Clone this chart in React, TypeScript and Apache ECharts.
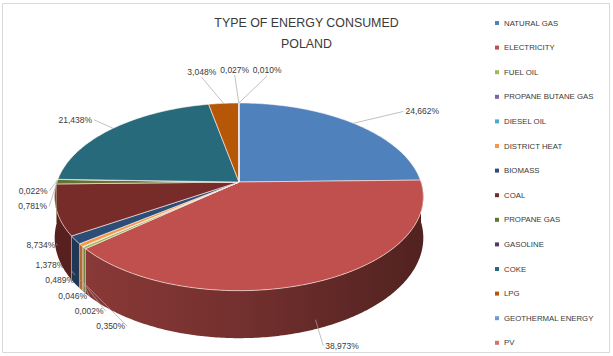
import React, { useEffect, useRef } from "react";
import * as echarts from "echarts";

const CATEGORIES = [
  "NATURAL GAS",
  "ELECTRICITY",
  "FUEL OIL",
  "PROPANE BUTANE GAS",
  "DIESEL OIL",
  "DISTRICT HEAT",
  "BIOMASS",
  "COAL",
  "PROPANE GAS",
  "GASOLINE",
  "COKE",
  "LPG",
  "GEOTHERMAL ENERGY",
  "PV",
];
const SHARES = [24.662, 38.973, 0.35, 0.002, 0.046, 0.489, 1.378, 8.734, 0.781, 0.022, 21.438, 3.048, 0.027, 0.01];
const COLORS = [
  "#4F81BD", "#C0504D", "#9BBB59", "#8064A2", "#4BACC6", "#F79646", "#2C4D75",
  "#772C2A", "#5F7530", "#4D3B62", "#276A7C", "#B65708", "#729ACA", "#CD7371",
];
const TITLE_LINES = ["TYPE OF ENERGY CONSUMED", "POLAND"];

const FONT = '"Liberation Sans", Arial, sans-serif';
const LABEL_SIZE = 8.5;
const TAU = Math.PI * 2;

// pie geometry (perspective ellipse)
const G = { cx: 239, cy: 182, rx: 182, ry: 91.5, p: 0.158, d: 40 };
// label ellipse
const L = { cx: 239, cy: 200, rxL: 190, rxR: 235, ryT: 124, ryB: 156 };

function proj(a: number, h: number): number[] {
  const u = Math.sin(a);
  const v = -Math.cos(a);
  const s = 1 / (1 - G.p * v);
  return [G.cx + G.rx * u * s, G.cy + (G.ry * v + h) * s];
}

function shade(hex: string, f: number) {
  const n = parseInt(hex.slice(1), 16);
  const r = (n >> 16) & 255, g = (n >> 8) & 255, b = n & 255;
  return `rgb(${Math.round(r * f)},${Math.round(g * f)},${Math.round(b * f)})`;
}

function fmt(v: number) {
  return v.toFixed(3).replace(".", ",") + "%";
}

function computeLayout() {
  const total = SHARES.reduce((a, b) => a + b, 0);
  const starts: number[] = [];
  const ends: number[] = [];
  let acc = 0;
  SHARES.forEach((v) => {
    starts.push((acc / total) * TAU);
    acc += v;
    ends.push((acc / total) * TAU);
  });
  const mids = starts.map((s, i) => (s + ends[i]) / 2);

  let widths: number[] = SHARES.map((v) => fmt(v).length * 4.6);
  try {
    const ctx = document.createElement("canvas").getContext("2d");
    if (ctx) {
      ctx.font = `${LABEL_SIZE}px ${FONT}`;
      widths = SHARES.map((v) => ctx.measureText(fmt(v)).width);
    }
  } catch (e) {}

  const labelPoint = (a: number) => {
    const s = Math.sin(a), c = Math.cos(a);
    return [L.cx + (s > 0 ? L.rxR : L.rxL) * s, L.cy - (c > 0 ? L.ryT : L.ryB) * c];
  };
  const alignOf = (a: number) => {
    const s = Math.sin(a);
    return Math.abs(s) < 0.3 ? "center" : s > 0 ? "left" : "right";
  };
  const box = (a: number, w: number) => {
    const [x, y] = labelPoint(a);
    const al = alignOf(a);
    if (al === "left") return [x + 2, y - 7.5, w, 15];
    if (al === "right") return [x - 2 - w, y - 7.5, w, 15];
    return [x - w / 2, y - 13, w, 12];
  };
  const overlap = (A: number[], B: number[]) =>
    A[0] < B[0] + B[2] + 3 && B[0] < A[0] + A[2] + 3 && A[1] < B[1] + B[3] && B[1] < A[1] + A[3];

  const la = mids.slice();
  const n = la.length;
  for (let it = 0; it < 3000; it++) {
    let moved = false;
    for (let k = 0; k < n - 1; k++) {
      if (overlap(box(la[k], widths[k]), box(la[k + 1], widths[k + 1]))) {
        la[k] -= 0.003;
        la[k + 1] += 0.003;
        moved = true;
      }
    }
    if (!moved) break;
  }

  return { starts, ends, mids, la, labelPoint, alignOf };
}

export default function App() {
  const ref = useRef<HTMLDivElement>(null);

  useEffect(() => {
    if (!ref.current) return;
    const chart = echarts.init(ref.current, undefined, { renderer: "svg" });
    const lay = computeLayout();

    const renderItem = (params: any) => {
      const i = params.dataIndex;
      const a0 = lay.starts[i];
      const a1 = lay.ends[i];
      const color = COLORS[i];
      const children: any[] = [];

      // wall (front half only)
      const w0 = Math.max(a0, Math.PI / 2);
      const w1 = Math.min(a1, (3 * Math.PI) / 2);
      if (w1 > w0) {
        const segs = Math.max(1, Math.ceil((w1 - w0) / 0.012));
        const topPts: number[][] = [];
        const botPts: number[][] = [];
        for (let k = 0; k <= segs; k++) {
          const a = w0 + ((w1 - w0) * k) / segs;
          topPts.push(proj(a, 0));
          botPts.push(proj(a, G.d));
        }
        const grad = new echarts.graphic.LinearGradient(
          G.cx - G.rx * 1.02, 0, G.cx + G.rx * 1.02, 0,
          [
            { offset: 0, color: shade(color, 0.74) },
            { offset: 0.5, color: shade(color, 0.6) },
            { offset: 1, color: shade(color, 0.42) },
          ],
          true
        );
        children.push({
          type: "polygon",
          shape: { points: topPts.concat(botPts.reverse()) },
          style: { fill: grad },
        });
        if (a0 >= Math.PI / 2 && a0 <= (3 * Math.PI) / 2) {
          const t = proj(a0, 0), b = proj(a0, G.d);
          children.push({
            type: "line",
            shape: { x1: t[0], y1: t[1], x2: b[0], y2: b[1] },
            style: { stroke: "rgba(255,235,230,0.6)", lineWidth: 0.6 },
          });
        }
      }

      // top face
      const pts: number[][] = [[G.cx, G.cy]];
      const steps = Math.max(1, Math.ceil((a1 - a0) / 0.015));
      for (let k = 0; k <= steps; k++) pts.push(proj(a0 + ((a1 - a0) * k) / steps, 0));
      children.push({
        type: "polygon",
        shape: { points: pts },
        style: { fill: color, stroke: "rgba(255,242,238,0.85)", lineWidth: 0.7 },
      });

      // label + leader
      const m = lay.mids[i];
      const front = -Math.cos(m) > 0.05;
      const anc = proj(m, front ? G.d * 0.8 : 0);
      const la = lay.la[i];
      const [lx, ly] = lay.labelPoint(la);
      const al = lay.alignOf(la);
      const end = al === "center" ? [lx, ly - 1] : [lx, ly];
      children.push({
        type: "polyline",
        shape: { points: [anc, end] },
        style: { stroke: "#a6a6a6", lineWidth: 0.7, fill: null },
      });
      children.push({
        type: "text",
        style: {
          text: fmt(SHARES[i]),
          x: al === "left" ? lx + 2 : al === "right" ? lx - 2 : lx,
          y: al === "center" ? ly - 2 : ly,
          align: al,
          verticalAlign: al === "center" ? "bottom" : "middle",
          fill: "#3a3a3a",
          fontSize: LABEL_SIZE,
          fontFamily: FONT,
        },
      });

      return { type: "group", children };
    };

    chart.setOption({
      animation: false,
      color: COLORS,
      textStyle: { fontFamily: FONT },
      title: {
        text: TITLE_LINES.join("\n"),
        left: "center",
        top: 12,
        padding: 0,
        textStyle: { fontSize: 12.4, fontWeight: "normal", fontFamily: FONT, color: "#3a3a3a", lineHeight: 21 },
      },
      legend: {
        orient: "vertical",
        left: 495,
        top: 18,
        padding: 0,
        icon: "rect",
        itemWidth: 4,
        itemHeight: 4,
        itemGap: 14.6,
        textStyle: { fontSize: 7.8, fontFamily: FONT, color: "#3a3a3a", lineHeight: 10 },
        data: CATEGORIES,
        selectedMode: false,
      },
      graphic: [
        {
          type: "rect",
          shape: { x: 2.5, y: 3.5, width: 607, height: 349 },
          style: { fill: "none", stroke: "#d9d9d9", lineWidth: 1 },
          silent: true,
        },
      ],
      series: [
        {
          type: "pie",
          name: "legend",
          center: [-100, -100],
          radius: 1,
          silent: true,
          label: { show: false },
          labelLine: { show: false },
          data: CATEGORIES.map((c, i) => ({ name: c, value: SHARES[i] })),
        },
        {
          type: "custom",
          name: "energy",
          coordinateSystem: "none",
          silent: true,
          data: SHARES,
          renderItem,
        },
      ],
    });

    return () => chart.dispose();
  }, []);

  return <div ref={ref} style={{ position: "absolute", left: 0, top: 0, width: 613, height: 356 }} />;
}
